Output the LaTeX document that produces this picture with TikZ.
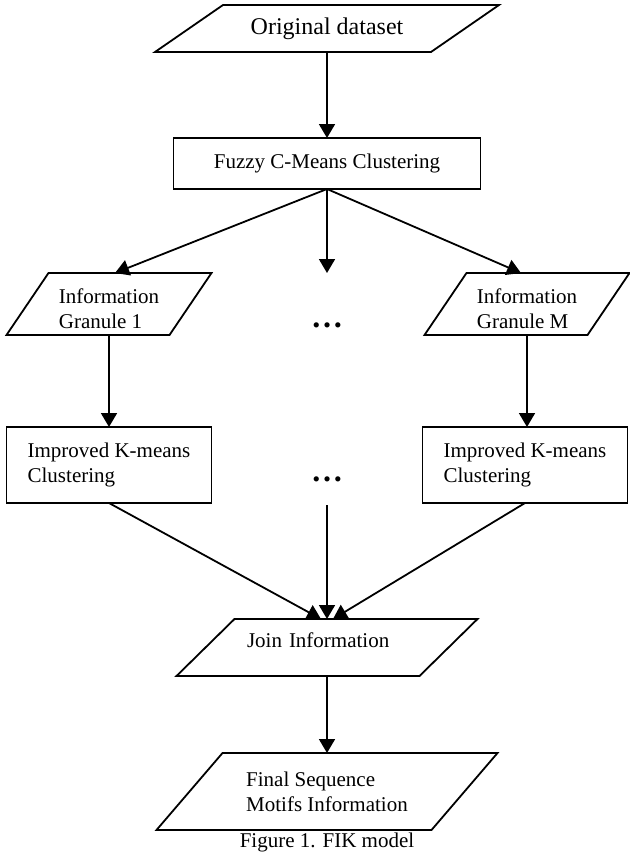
\documentclass[tikz,border=0pt]{standalone}
\usepackage{fontspec}
\setmainfont{Liberation Serif}
\usetikzlibrary{arrows.meta,positioning}

\newcommand{\drawslant}[2]{\draw[line width=0.9pt] (#1.south west) -- ([xshift=#2]#1.north west) -- (#1.north east) -- ([xshift=-#2]#1.south east) -- cycle;}

\begin{document}
\begin{tikzpicture}[
    x=0.5pt, y=0.5pt,
    node distance=40pt,
    box/.style={draw, line width=0.9pt, outer sep=0pt, minimum width=102.5pt, minimum height=38pt, align=left, inner sep=2pt, font=\fontsize{10.5}{12.5}\selectfont},
    data/.style={outer sep=0pt, minimum width=102.5pt, minimum height=31pt, align=left, inner sep=2pt, font=\fontsize{10.5}{12.5}\selectfont},
    dots/.style={inner sep=0pt, font=\fontsize{16}{16}\selectfont\bfseries},
    link/.style={-{Triangle[length=7pt, width=8pt]}, line width=0.9pt}
]
\useasboundingbox (0,0) rectangle (629,-857);
\node[data, minimum width=172pt, minimum height=23.5pt, font=\fontsize{12}{14}\selectfont] (orig) at (327,-28.5) {Original dataset};
\node[box, below=43pt of orig, minimum width=153.5pt, minimum height=25.5pt] (fcm) {Fuzzy C-Means Clustering};
\node[data, below=42pt of fcm, xshift=-109pt, text height=24.5pt] (g1) {Information\\Granule 1};
\node[data, below=42pt of fcm, xshift=100pt, text height=24.5pt] (gM) {Information\\Granule M};
\node[dots, yshift=-10.5pt] (dots1) at (fcm.south |- g1.center) {\ldots};
\node[box, below=46pt of g1] (ik1) {Improved K-means\\Clustering};
\node[box, below=46pt of gM, xshift=-1pt] (ikM) {Improved K-means\\Clustering};
\node[dots, yshift=-7pt] (dots2) at (fcm.south |- ik1.center) {\ldots};
\node[data, below=215pt of fcm, minimum width=150.5pt, minimum height=28.5pt, text width=80pt, text depth=7pt] (join) {Join Information};
\node[data, below=38.5pt of join, minimum width=170.5pt, minimum height=38.5pt] (final) {Final Sequence\\Motifs Information};
\node[below=1.5pt of final, inner sep=0pt, font=\fontsize{10.5}{12.5}\selectfont] (caption) {Figure 1. FIK model};
\drawslant{orig}{34pt}
\drawslant{g1}{21pt}
\drawslant{gM}{21pt}
\drawslant{join}{29pt}
\drawslant{final}{33pt}
\coordinate (midtip) at (fcm.south |- g1.north);
\coordinate (midtop) at ([yshift=-13pt]dots2.center);
\draw[link] (orig.south) -- (fcm.north);
\draw[link] (fcm.south) -- ([xshift=3pt]g1.north);
\draw[link] (fcm.south) -- (midtip);
\draw[link] (fcm.south) -- ([xshift=-3pt]gM.north);
\draw[link] (g1.south) -- (ik1.north);
\draw[link] (gM.south) -- (ikM.north -| gM.south);
\draw[link] (ik1.south) -- ([xshift=-3pt]join.north);
\draw[link] (midtop) -- (join.north);
\draw[link] (ikM.south) -- ([xshift=3pt]join.north);
\draw[link] (join.south) -- (final.north);
\end{tikzpicture}
\end{document}
